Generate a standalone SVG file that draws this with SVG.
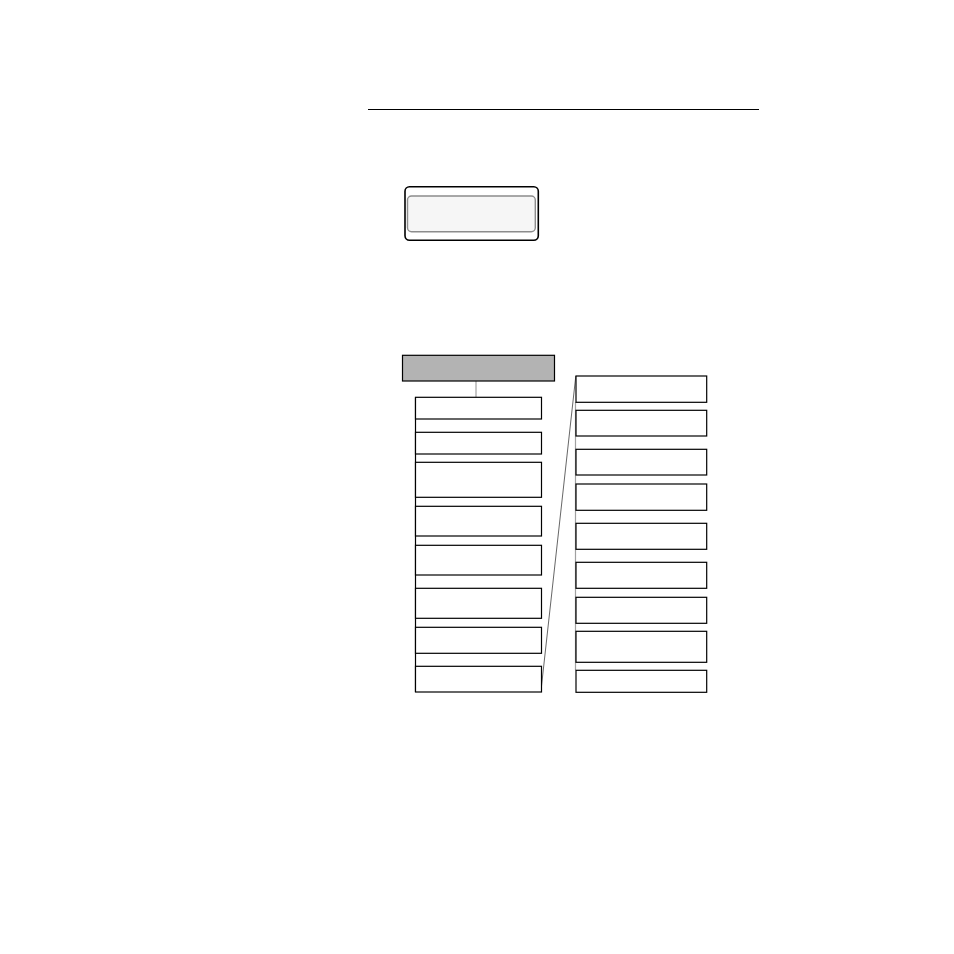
<svg xmlns="http://www.w3.org/2000/svg" width="954" height="954" viewBox="0 0 954 954">
<style>
.box{fill:#ffffff;stroke:#000000;stroke-width:1.2}
.trunk{stroke:#000000;stroke-width:1.2;fill:none}
.gray{stroke:#a0a0a0;stroke-width:1.2;fill:none}
</style>
<rect x="0" y="0" width="954" height="954" fill="#ffffff"/>
<line x1="368" y1="109.5" x2="759" y2="109.5" stroke="#000" stroke-width="1.2"/>
<g id="button">
<rect x="405" y="186.7" width="133.3" height="53.6" rx="4.5" fill="#ffffff" stroke="#000" stroke-width="1.6"/>
<rect x="407.5" y="196" width="127.8" height="35.7" rx="4" fill="#f6f6f6" stroke="#8c8c8c" stroke-width="1.4"/>
</g>
<g id="connectors">
<line class="gray" x1="476" y1="381" x2="476" y2="397.3"/>
<line class="trunk" x1="415.5" y1="397.3" x2="415.5" y2="692"/>
<line class="gray" x1="575.5" y1="402" x2="575.5" y2="670.3"/>
<line x1="541.5" y1="686" x2="575.8" y2="376" stroke="#555" stroke-width="0.9"/>
</g>
<g id="header"><rect x="402.5" y="355.3" width="152" height="25.7" fill="#b3b3b3" stroke="#000" stroke-width="1.2"/></g>
<g id="l1"><rect class="box" x="415.5" y="397.3" width="126" height="21.7"/></g>
<g id="l2"><rect class="box" x="415.5" y="432.3" width="126" height="21.7"/></g>
<g id="l3"><rect class="box" x="415.5" y="462.3" width="126" height="35"/></g>
<g id="l4"><rect class="box" x="415.5" y="506.3" width="126" height="29.7"/></g>
<g id="l5"><rect class="box" x="415.5" y="545.3" width="126" height="29.7"/></g>
<g id="l6"><rect class="box" x="415.5" y="588.3" width="126" height="30"/></g>
<g id="l7"><rect class="box" x="415.5" y="627.3" width="126" height="26"/></g>
<g id="l8"><rect class="box" x="415.5" y="666.3" width="126" height="25.7"/></g>
<g id="r1"><rect class="box" x="576" y="376" width="130.7" height="26.3"/></g>
<g id="r2"><rect class="box" x="576" y="410.3" width="130.7" height="25.7"/></g>
<g id="r3"><rect class="box" x="576" y="449.3" width="130.7" height="25.7"/></g>
<g id="r4"><rect class="box" x="576" y="484" width="130.7" height="26.3"/></g>
<g id="r5"><rect class="box" x="576" y="523.3" width="130.7" height="26"/></g>
<g id="r6"><rect class="box" x="576" y="562.3" width="130.7" height="26"/></g>
<g id="r7"><rect class="box" x="576" y="597.3" width="130.7" height="26"/></g>
<g id="r8"><rect class="box" x="576" y="631.3" width="130.7" height="31"/></g>
<g id="r9"><rect class="box" x="576" y="670.3" width="130.7" height="22"/></g>
</svg>
